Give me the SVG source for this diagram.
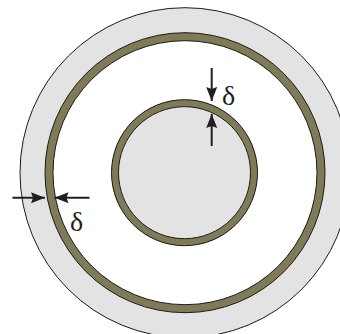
<svg xmlns="http://www.w3.org/2000/svg" width="340" height="334" viewBox="0 0 340 334">
  <defs>
    <marker id="ah" markerUnits="userSpaceOnUse" markerWidth="16" markerHeight="12" refX="14" refY="5.5" orient="auto">
      <path d="M0,0 L14,5.5 L0,11 L2,5.5 z" fill="#231f20"/>
    </marker>
    <style>
      .edge { fill: none; stroke: #1a1a1a; stroke-width: 1; }
      .ring { fill: none; stroke: #7f7a58; }
      .arrow { stroke: #231f20; stroke-width: 2; fill: none; marker-end: url(#ah); }
      .lbl { font-family: "Liberation Serif", "DejaVu Serif", serif; font-size: 28px; fill: #231f20; }
    </style>
  </defs>
  <rect width="340" height="334" fill="#ffffff"/>
  <g id="outer-disk">
    <circle cx="185" cy="172.7" r="165" fill="#e3e3e3" stroke="#1a1a1a" stroke-width="1"/>
  </g>
  <g id="outer-ring">
    <circle cx="185" cy="172.7" r="136" style="fill:#ffffff;stroke:none"/>
    <circle cx="185" cy="172.7" r="136" class="ring" stroke-width="8"/>
    <circle cx="185" cy="172.7" r="140" class="edge"/>
    <circle cx="185" cy="172.7" r="132" class="edge"/>
  </g>
  <g id="inner-ring">
    <circle cx="184.5" cy="172.7" r="69.5" style="fill:#e3e3e3;stroke:none"/>
    <circle cx="184.5" cy="172.7" r="69.5" class="ring" stroke-width="7"/>
    <circle cx="184.5" cy="172.7" r="73" class="edge"/>
    <circle cx="184.5" cy="172.7" r="66" class="edge"/>
  </g>
  <g id="connectors">
    <line class="arrow" x1="211.7" y1="68" x2="211.7" y2="101"/>
    <line class="arrow" x1="211.7" y1="146" x2="211.7" y2="114"/>
    <line class="arrow" x1="12.5" y1="197.7" x2="45" y2="197.7"/>
    <line class="arrow" x1="89.5" y1="197.7" x2="54.5" y2="197.7"/>
  </g>
  <g id="label-top">
    <text class="lbl" x="222" y="105">δ</text>
  </g>
  <g id="label-left">
    <text class="lbl" x="70" y="231">δ</text>
  </g>
</svg>
